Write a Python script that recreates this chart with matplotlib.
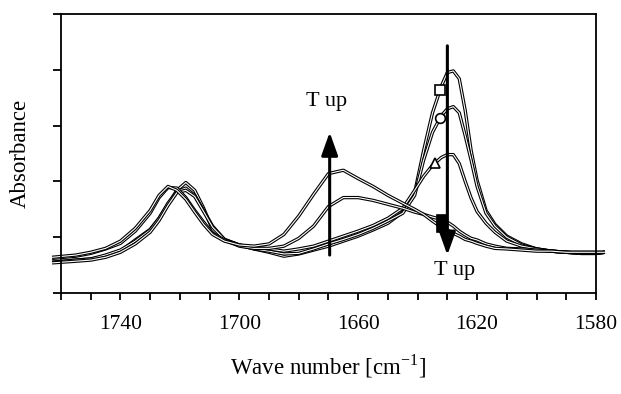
import matplotlib
matplotlib.use('Agg')
import matplotlib.pyplot as plt
from matplotlib.ticker import FixedLocator, NullFormatter
import numpy as np

plt.rcParams['font.family'] = ['Liberation Serif', 'DejaVu Serif']
plt.rcParams['mathtext.fontset'] = 'custom'
plt.rcParams['mathtext.rm'] = 'Liberation Serif'

# wavenumber grid [cm-1]
wavenumber = [1763, 1755, 1750, 1745, 1740, 1735, 1730, 1727, 1724, 1721,
              1718, 1715, 1712, 1709, 1705, 1700, 1695, 1690, 1685, 1680,
              1675, 1670, 1665, 1660, 1655, 1650, 1645, 1641, 1638, 1635,
              1632, 1630, 1628, 1626, 1624, 1622, 1620, 1617, 1614, 1610,
              1605, 1600, 1595, 1590, 1585, 1580, 1577]

# absorbance (arb. units), lowest temperature first
spec_a = [0.55, 0.59, 0.61, 0.66, 0.75, 0.95, 1.14, 1.34, 1.59, 1.84,
          1.98, 1.84, 1.52, 1.13, 0.95, 0.86, 0.79, 0.73, 0.66, 0.70,
          0.77, 0.84, 0.93, 1.02, 1.13, 1.25, 1.45, 1.80, 2.55, 3.23,
          3.71, 3.95, 3.98, 3.84, 3.27, 2.55, 2.02, 1.48, 1.23, 1.02,
          0.88, 0.79, 0.75, 0.73, 0.71, 0.71, 0.73]
spec_b = [0.55, 0.59, 0.61, 0.68, 0.77, 0.93, 1.13, 1.34, 1.61, 1.82,
          1.88, 1.75, 1.48, 1.20, 0.96, 0.86, 0.79, 0.75, 0.70, 0.71,
          0.79, 0.88, 0.96, 1.05, 1.16, 1.29, 1.43, 1.75, 2.38, 2.88,
          3.18, 3.30, 3.34, 3.23, 2.82, 2.38, 1.91, 1.43, 1.20, 1.00,
          0.86, 0.79, 0.75, 0.73, 0.71, 0.71, 0.73]
spec_c = [0.54, 0.57, 0.59, 0.64, 0.73, 0.88, 1.09, 1.30, 1.57, 1.80,
          1.84, 1.73, 1.46, 1.18, 0.96, 0.86, 0.82, 0.79, 0.75, 0.79,
          0.84, 0.93, 1.02, 1.11, 1.21, 1.34, 1.52, 1.84, 2.09, 2.29,
          2.43, 2.48, 2.48, 2.32, 2.00, 1.70, 1.46, 1.25, 1.09, 0.93,
          0.84, 0.79, 0.75, 0.73, 0.71, 0.71, 0.73]
spec_d = [0.62, 0.66, 0.71, 0.79, 0.89, 1.11, 1.43, 1.71, 1.89, 1.88,
          1.71, 1.48, 1.27, 1.07, 0.95, 0.84, 0.80, 0.80, 0.84, 0.98,
          1.20, 1.55, 1.71, 1.71, 1.66, 1.59, 1.52, 1.45, 1.41, 1.36,
          1.32, 1.27, 1.20, 1.11, 1.04, 0.98, 0.95, 0.88, 0.84, 0.80,
          0.79, 0.77, 0.75, 0.73, 0.73, 0.73, 0.73]
spec_e = [0.64, 0.68, 0.73, 0.80, 0.93, 1.16, 1.48, 1.75, 1.91, 1.84,
          1.68, 1.45, 1.23, 1.05, 0.93, 0.86, 0.84, 0.88, 1.05, 1.38,
          1.77, 2.14, 2.20, 2.05, 1.91, 1.75, 1.61, 1.50, 1.41, 1.29,
          1.18, 1.13, 1.07, 1.02, 0.96, 0.93, 0.89, 0.84, 0.80, 0.79,
          0.77, 0.75, 0.75, 0.73, 0.73, 0.73, 0.73]

spectra = [spec_a, spec_b, spec_c, spec_d, spec_e]
markers = ['s', 'o', '^', 's', 's']
marker_faces = ['white', 'white', 'white', 'black', 'black']
marker_x = [1632.5, 1632.5, 1634.0, 1631.8, 1631.8]

major_ticks = [1740, 1700, 1660, 1620, 1580]
minor_ticks = list(range(1580, 1761, 10))

fig = plt.figure(figsize=(6.21, 3.94), dpi=100)
ax = fig.add_axes([0.0982, 0.2563, 0.8615, 0.7082])

x = np.array(wavenumber)
for y in spectra:
    ax.plot(x, y, color='black', lw=2.4, clip_on=False, solid_capstyle='butt')
    ax.plot(x, y, color='white', lw=0.8, clip_on=False, solid_capstyle='butt')
for y, m, fc, mx in zip(spectra, markers, marker_faces, marker_x):
    # put the marker on its curve
    my = np.interp(mx, x[::-1], np.array(y)[::-1])
    ax.plot(mx, my, marker=m, ms=7, mfc=fc, mec='black',
            mew=1.2, ls='none', zorder=4)

arrow = dict(arrowstyle='-|>,head_length=0.7,head_width=0.25', lw=2.2,
             color='black', shrinkA=0, shrinkB=0, mutation_scale=20)
ax.annotate('', xy=(1630, 0.68), xytext=(1630, 4.43), arrowprops=arrow)
ax.annotate('', xy=(1669.6, 2.88), xytext=(1669.6, 0.68), arrowprops=arrow)
ax.text(1670.5, 3.43, 'T up', fontsize=16, ha='center', va='center')
ax.text(1627.5, 0.41, 'T up', fontsize=16, ha='center', va='center')

ax.set_xlim(1760, 1580)
ax.set_ylim(0, 5)
ax.xaxis.set_major_locator(FixedLocator(major_ticks))
ax.xaxis.set_minor_locator(FixedLocator(minor_ticks))
ax.set_yticks(range(0, 6))
ax.yaxis.set_major_formatter(NullFormatter())
ax.tick_params(axis='x', which='both', direction='out', length=5, width=1.3,
               labelsize=15.5, pad=11)
ax.tick_params(axis='y', direction='out', length=6, width=1.3)
for s in ax.spines.values():
    s.set_linewidth(1.3)

ax.set_xlabel('Wave number [cm$^{\\mathregular{-1}}$]', fontsize=16.5, labelpad=13)
ax.set_ylabel('Absorbance', fontsize=16.5, labelpad=12)

fig.savefig('out.png', dpi=100)
